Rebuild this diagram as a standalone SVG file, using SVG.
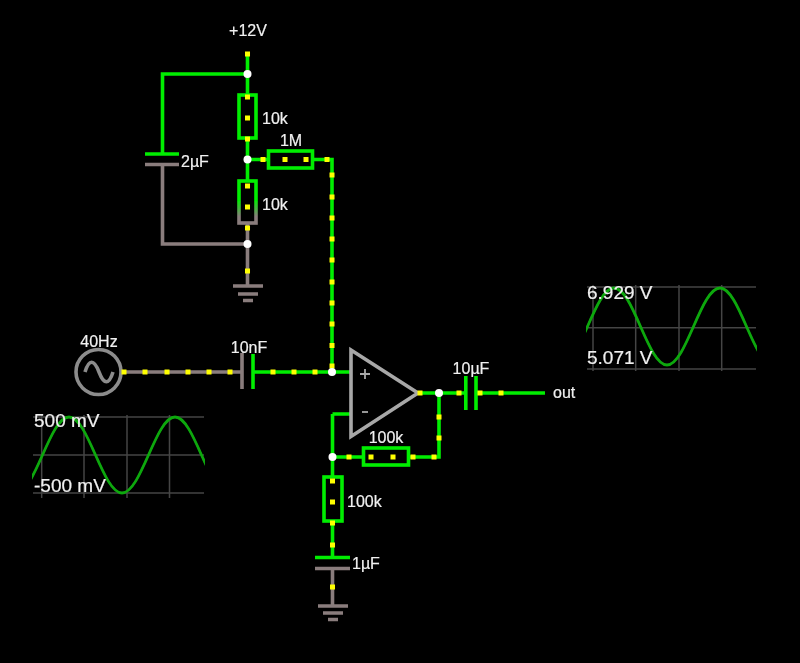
<svg xmlns="http://www.w3.org/2000/svg" width="800" height="663" viewBox="0 0 800 663">
<defs>
<linearGradient id="rg" x1="0" y1="0" x2="0" y2="1"><stop offset="0.45" stop-color="#0e0"/><stop offset="0.85" stop-color="#8a7d7d"/></linearGradient>
<clipPath id="c1"><rect x="32" y="400" width="173" height="110"/></clipPath>
<clipPath id="c2"><rect x="586" y="275" width="171" height="110"/></clipPath>
<filter id="soft" x="0" y="0" width="800" height="663" filterUnits="userSpaceOnUse"><feGaussianBlur stdDeviation="0.45"/></filter>
</defs>
<style>
.w{fill:none;stroke:#0e0;stroke-width:3.6}
.g{fill:none;stroke:#8a7d7d;stroke-width:3.6}
.p{fill:none;stroke:#a8a8a8;stroke-width:3.6}
.grid{fill:none;stroke:#444;stroke-width:1.5}
.sine{fill:none;stroke:#0fa80f;stroke-width:2.8}
.dots{fill:none;stroke:#ff0;stroke-width:5;stroke-linecap:square}
.j{fill:#fff}
text{font-family:"Liberation Sans",Arial,sans-serif;fill:#f0f0f0;font-size:16px;stroke:#f0f0f0;stroke-width:.2}
.m{text-anchor:middle}
.s{font-size:19px}
</style>
<rect width="800" height="663" fill="#000"/>
<g filter="url(#soft)">
<g id="connectors">
<path class="w" d="M247.500 53V94M247.500 139V180M247.500 74H162.500V154M247.500 159.500H268M313 159.500H332V372M253 372H350M332.500 414H350M332.500 414V477M332.500 522V557M332.500 457H363M409 457H439V393M418 393H466M476 393H545"/>
<path class="g" d="M247.500 223V286M247.500 244H162.500V164M120 372H242M332.500 568V606"/>
</g>
<g id="supply-12v"><text class="m" x="248" y="36">+12V</text></g>
<g id="r1"><rect class="w" x="239" y="95" width="17" height="43"/><text x="262" y="124">10k</text></g>
<g id="r2"><rect x="239" y="181" width="17" height="42" fill="none" stroke="url(#rg)" stroke-width="3.6"/><text x="262" y="210">10k</text></g>
<g id="r3"><rect class="w" x="268.500" y="151" width="44" height="17"/><text class="m" x="291" y="146">1M</text></g>
<g id="c2uf"><path class="w" d="M145 154H179"/><path class="g" d="M145 164.500H179"/><text x="181" y="167">2µF</text></g>
<g id="gnd1"><path class="g" d="M233 286H263M238 294H258M243 300.500H253"/></g>
<g id="source"><circle class="p" cx="98.500" cy="372" r="22.500" style="stroke:#8c8c8c"/><path class="p" d="M85 372C89 359 94 359 99 372S109 385 113 372" style="stroke:#8c8c8c"/><text class="m" x="99" y="347">40Hz</text></g>
<g id="c10nf"><path class="g" d="M242 353V389"/><path class="w" d="M253 354V389"/><text class="m" x="249" y="353">10nF</text></g>
<g id="opamp"><path class="p" d="M351 350V436.500L418 393Z"/><path d="M360 374H370M365 369V379" fill="none" stroke="#a8a8a8" stroke-width="1.800"/><path d="M362 412H368" fill="none" stroke="#a8a8a8" stroke-width="1.800"/></g>
<g id="c10uf"><path class="w" d="M465.800 376V410M476 376V410"/><text class="m" x="471" y="374">10µF</text></g>
<g id="out"><text x="553" y="398">out</text></g>
<g id="r4"><rect class="w" x="363.500" y="448" width="45" height="17"/><text class="m" x="386" y="443">100k</text></g>
<g id="r5"><rect class="w" x="324" y="477" width="18" height="44"/><text x="347" y="507">100k</text></g>
<g id="c1uf"><path class="w" d="M315 557.500H350"/><path class="g" d="M315 568.500H350"/><text x="352" y="569">1µF</text></g>
<g id="gnd2"><path class="g" d="M318 606H348M323 613H343M328 619.500H338"/></g>
<path id="current-dots" class="dots" d="M247.500 54h.01M247.500 97h.01M247.500 118h.01M247.500 139h.01M247.500 186h.01M247.500 207h.01M247.500 228h.01M247.500 271h.01M263 159.500h.01M285 159.500h.01M306 159.500h.01M327 159.500h.01M332 175h.01M332 197h.01M332 218h.01M332 239h.01M332 260h.01M332 282h.01M332 303h.01M332 324h.01M332 345.500h.01M332 366h.01M124 372h.01M145 372h.01M167 372h.01M188 372h.01M209 372h.01M230 372h.01M273 372h.01M294 372h.01M315 372h.01M420 393h.01M459 393h.01M480 393h.01M501 393h.01M439 417h.01M439 438h.01M434 457h.01M413 457h.01M393 457h.01M371 457h.01M349 457h.01M332.500 481h.01M332.500 502h.01M332.500 523h.01M332.500 545h.01M332.500 587h.01"/>
<g id="junctions"><circle class="j" cx="247.500" cy="74" r="4"/><circle class="j" cx="247.500" cy="159.500" r="4"/><circle class="j" cx="247.500" cy="244" r="4"/><circle class="j" cx="332" cy="372" r="4"/><circle class="j" cx="439" cy="393" r="4"/><circle class="j" cx="332.500" cy="457" r="4"/></g>
<g id="scope-in">
<path class="grid" d="M33 417H204M33 455H204M33 493H204M41.700 415V498M84 415V498M127 415V498M169.500 415V498"/>
<path class="sine" clip-path="url(#c1)" d="M16 493C35.300 493 49.700 417 69 417S102.700 493 122 493S155.700 417 175 417S208.700 493 228 493"/>
<text class="s" x="34" y="427">500 mV</text><text class="s" x="34" y="492">-500 mV</text>
</g>
<g id="scope-out">
<path class="grid" d="M587 287H756M587 327.700H756M587 369H756M593 285V371M635.700 285V371M679 285V371M721.700 285V371"/>
<path class="sine" clip-path="url(#c2)" d="M561 365C580.300 365 594.700 288 614 288S647.700 365 667 365S700.700 288 720 288S753.700 365 773 365"/>
<text class="s" x="587" y="299">6.929 V</text><text class="s" x="587" y="364">5.071 V</text>
</g>
</g>
</svg>
